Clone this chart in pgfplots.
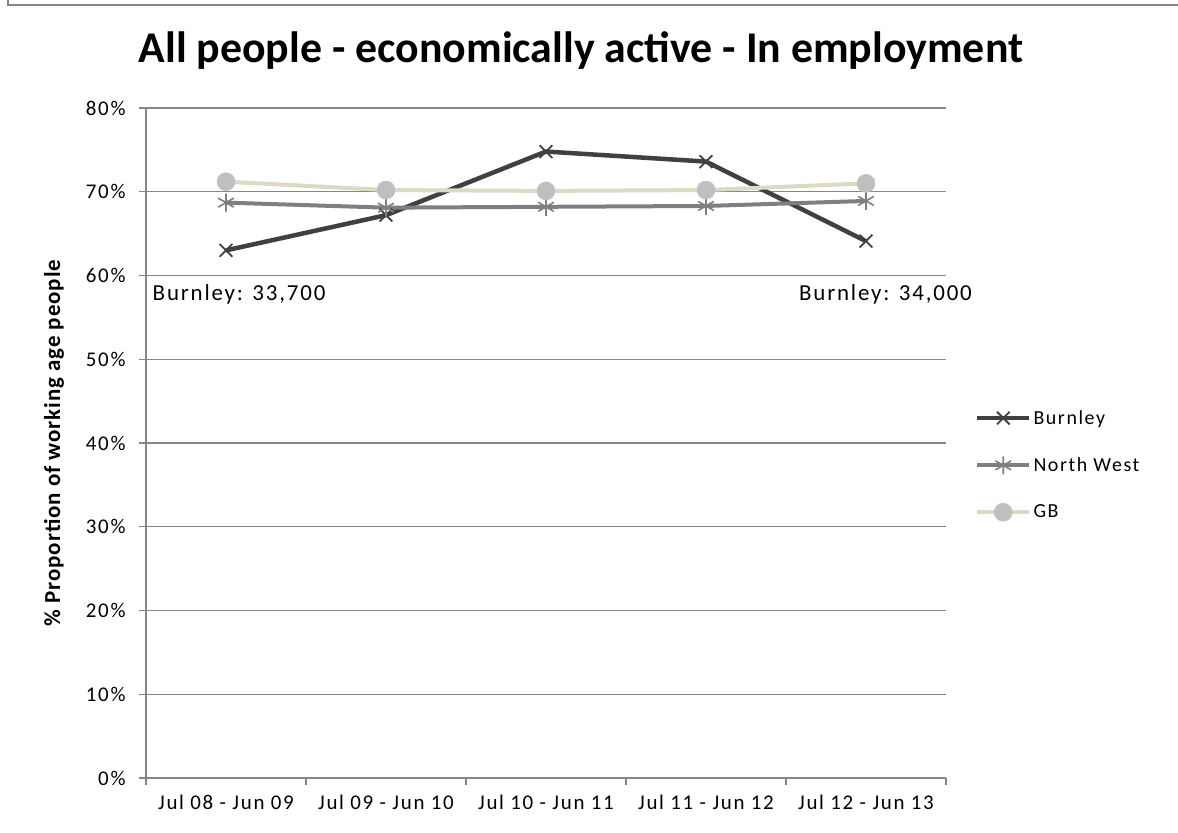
\documentclass[border=0pt]{standalone}
\usepackage{pgfplots}
\pgfplotsset{compat=1.18}
\usepackage{fontspec}
\setmainfont{Carlito}
\newfontfamily\wide[LetterSpace=8]{Carlito}
\newfontfamily\wideb[LetterSpace=4]{Carlito}
\definecolor{burn}{HTML}{404040}
\definecolor{nw}{HTML}{7F7F7F}
\definecolor{gbl}{HTML}{DDD9C3}
\definecolor{gbm}{HTML}{BFBFBF}
\definecolor{grid}{HTML}{868686}
\pgfplotstableread{
x burnley nw gb
0.5 63.0 68.7 71.2
1.5 67.2 68.1 70.2
2.5 74.8 68.2 70.1
3.5 73.6 68.3 70.2
4.5 64.1 68.9 71.0
}\datatable
\begin{document}
\begin{tikzpicture}[x=1bp,y=1bp]
\useasboundingbox (0,0) rectangle (1178,833);
\draw[grid,line width=1.2bp] (8,833) -- (8,828) -- (1178,828);
\node[font=\bfseries\fontsize{44}{48}\selectfont] at (581,782) {All people - economically active - In employment};
\begin{axis}[
  at={(146bp,55bp)}, anchor=south west,
  scale only axis, width=800bp, height=670bp,
  xmin=0, xmax=5, ymin=0, ymax=80,
  axis x line*=bottom, axis y line*=left,
  axis line style={draw=grid, line width=1.2bp, -},
  xtick={0,1,2,3,4,5},
  x tick label as interval,
  xticklabels={Jul 08 - Jun 09, Jul 09 - Jun 10, Jul 10 - Jun 11, Jul 11 - Jun 12, Jul 12 - Jun 13},
  ytick={0,10,...,80},
  yticklabel={\pgfmathprintnumber{\tick}\%},
  /pgf/number format/assume math mode=true,
  tick align=outside, major tick length=7bp,
  tick style={draw=grid, line width=1.2bp},
  ymajorgrids, grid style={draw=grid, line width=1.2bp},
  ticklabel style={font=\wide\fontsize{21}{23}\selectfont},
  xticklabel style={yshift=-6bp},
  yticklabel style={xshift=-10bp},
  ylabel={\bfseries \% Proportion of working age people},
  ylabel style={font=\wideb\fontsize{23}{25}\selectfont, at={(axis description cs:-0.115,0.5)}, anchor=center},
  clip=false,
  legend style={at={(1.036,0.552)}, anchor=north west, draw=none, fill=none,
     font=\wide\fontsize{20}{22}\selectfont, row sep=28bp, inner sep=0pt,
     nodes={inner sep=2bp}},
  legend cell align=left,
  legend image code/.code={\draw[#1,mark repeat=2,mark phase=2] plot coordinates {(0bp,0bp)(26bp,0bp)(52bp,0bp)};},
]
\addplot[burn, line width=4.5bp, mark=x, mark size=9bp, mark options={line width=1.8bp, solid}] table[x=x,y=burnley] {\datatable};
\addlegendentry{Burnley}
\addplot[nw, line width=4bp, mark=asterisk, mark size=9bp, mark options={line width=1.6bp, solid}] table[x=x,y=nw] {\datatable};
\addlegendentry{North West}
\addplot[gbl, line width=4bp, mark=*, mark size=9bp, mark options={fill=gbm, draw=gbm, line width=0.5bp}] table[x=x,y=gb] {\datatable};
\addlegendentry{GB}
\node[anchor=west, font=\wide\fontsize{23}{25}\selectfont] at (axis cs:0.02,57.7) {Burnley: 33,700};
\node[anchor=west, font=\wide\fontsize{23}{25}\selectfont] at (axis cs:4.06,57.7) {Burnley: 34,000};
\end{axis}
\end{tikzpicture}
\end{document}
